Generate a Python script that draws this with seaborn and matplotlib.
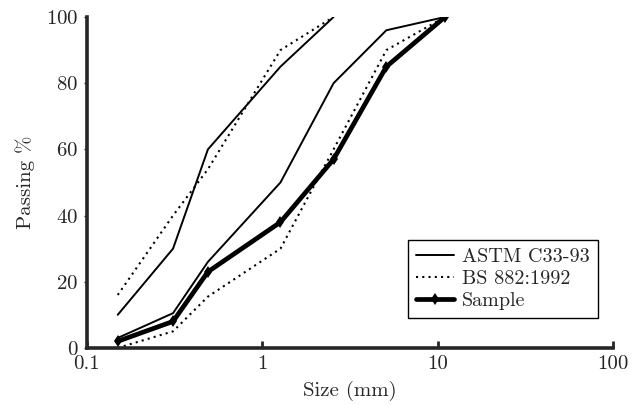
import matplotlib
matplotlib.use("Agg")
import matplotlib.pyplot as plt
import seaborn as sns
import pandas as pd

# sieve sizes (mm)
sizes = [0.15, 0.31, 0.49, 1.27, 2.55, 5.1, 11.0]

# grading limits and sample (% passing)
astm_upper = [10, 30, 60, 85, 100]
astm_lower = [3, 10.5, 26, 50, 80, 96, 100]
bs_upper = [16, 40, 54, 90, 100]
bs_lower = [0, 5, 15.5, 30, 60, 90, 100]
sample = [2, 8, 23, 38, 57, 85, 100]

sns.set_style("ticks")
plt.rcParams["font.family"] = ["cmr10", "DejaVu Serif"]
plt.rcParams["axes.formatter.use_mathtext"] = True
plt.rcParams["mathtext.fontset"] = "cm"

fig = plt.figure(figsize=(6.34, 4.05), dpi=100)
ax = fig.add_axes([0.137, 0.141, 0.830, 0.817])

up = pd.DataFrame({"size": sizes[:5], "astm": astm_upper, "bs": bs_upper})
lo = pd.DataFrame({"size": sizes, "astm": astm_lower, "bs": bs_lower, "sample": sample})

sns.lineplot(data=up, x="size", y="astm", ax=ax, color="black", lw=1.4, label="ASTM C33-93")
sns.lineplot(data=lo, x="size", y="astm", ax=ax, color="black", lw=1.4)
sns.lineplot(data=up, x="size", y="bs", ax=ax, color="black", lw=1.5, ls=(0, (1, 2)),
             label="BS 882:1992")
sns.lineplot(data=lo, x="size", y="bs", ax=ax, color="black", lw=1.5, ls=(0, (1, 2)))
sns.lineplot(data=lo, x="size", y="sample", ax=ax, color="black", lw=3.4,
             marker="d", markersize=6.5, markeredgewidth=0, label="Sample")

ax.set_xscale("log")
ax.set_xlim(0.1, 100)
ax.set_ylim(0, 100)
ax.set_xticks([0.1, 1, 10, 100])
ax.set_xticklabels(["0.1", "1", "10", "100"])
ax.minorticks_off()
ax.set_yticks([0, 20, 40, 60, 80, 100])
ax.tick_params(axis="x", direction="in", length=5, width=2, labelsize=15, pad=5)
ax.tick_params(axis="y", direction="out", length=2, width=1, labelsize=15, pad=4)

sns.despine(ax=ax)
for s in ["left", "bottom"]:
    ax.spines[s].set_linewidth(2.6)

ax.set_xlabel("Size (mm)", fontsize=15, labelpad=6)
ax.set_ylabel("Passing %", fontsize=15, labelpad=8)

leg = ax.legend(loc="lower right", bbox_to_anchor=(0.99, 0.06), fontsize=14.5,
                frameon=True, fancybox=False, edgecolor="black", framealpha=1,
                handlelength=1.9, handletextpad=0.4, borderpad=0.4, labelspacing=0.2)
leg.get_frame().set_linewidth(1.0)

fig.savefig("out.png", dpi=100)
